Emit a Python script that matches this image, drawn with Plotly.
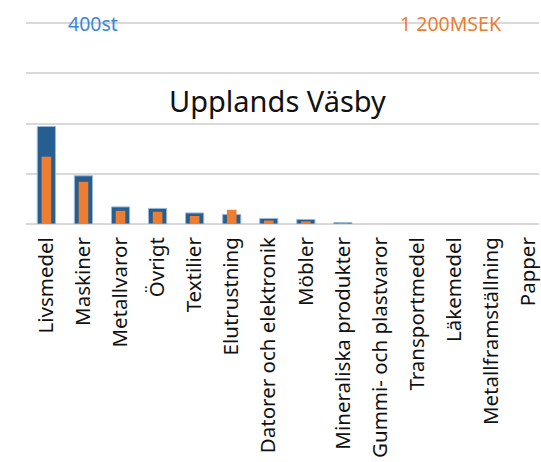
import plotly.graph_objects as go

# Branscher i Upplands Väsby: antal företag (st) och omsättning (MSEK)
categories = ["Livsmedel", "Maskiner", "Metallvaror", "Övrigt", "Textilier",
              "Elutrustning", "Datorer och elektronik", "Möbler",
              "Mineraliska produkter", "Gummi- och plastvaror", "Transportmedel",
              "Läkemedel", "Metallframställning", "Papper"]
antal_st = [194, 96, 34, 31, 22, 19, 11, 9, 3, 0, 0, 0, 0, 0]
oms_msek = [402, 252, 79, 73, 48, 85, 21, 16, 6, 0, 0, 0, 0, 0]

st_max = 400
msek_max = 1200

BLUE = "#255E91"
ORANGE = "#ED7D31"
FONT = "Noto Sans"

W, H = 541, 462
M_L, M_R, M_B = 26, 0, 238
PX_PER_ST = 0.5025          # vertical scale of the count axis
RANGE_TOP = 410              # a little headroom so the 400 gridline is drawn
M_T = round(H - M_B - RANGE_TOP * PX_PER_ST)
plot_w = W - M_L - M_R
plot_h = H - M_T - M_B

fig = go.Figure()
fig.add_trace(go.Bar(
    x=categories, y=antal_st, yaxis="y", width=0.49,
    marker=dict(color=BLUE,
                line=dict(color="#9DB8D9",
                          width=[1 if v > 0 else 0 for v in antal_st])),
    name="st",
))
fig.add_trace(go.Bar(
    x=categories, y=oms_msek, yaxis="y2", width=0.26,
    marker=dict(color=ORANGE, line=dict(width=0)),
    name="MSEK",
))

fig.update_layout(
    width=W, height=H,
    margin=dict(l=M_L, r=M_R, t=M_T, b=M_B),
    paper_bgcolor="white", plot_bgcolor="white",
    showlegend=False,
    barmode="overlay",
    font=dict(family=FONT, color="#222222"),
    xaxis=dict(
        range=[-0.55, 13.29], tickangle=-90, showgrid=False,
        tickfont=dict(size=20.5, color="#111111", family=FONT),
        ticks="", showline=False, zeroline=False, ticklabelstandoff=8,
    ),
    yaxis=dict(
        range=[0, RANGE_TOP], dtick=100, showticklabels=False,
        showgrid=True, gridcolor="#D9D9D9", gridwidth=1.5,
        zeroline=True, zerolinecolor="#D9D9D9", zerolinewidth=1.5,
        ticks="",
    ),
    yaxis2=dict(
        range=[0, RANGE_TOP * msek_max / st_max], overlaying="y", side="right",
        showticklabels=False, showgrid=False, zeroline=False, ticks="",
    ),
)

fig.add_annotation(
    text="Upplands Väsby", xref="paper", yref="paper",
    x=(278 - M_L) / plot_w, y=(H - M_B - 100) / plot_h,
    showarrow=False, xanchor="center", yanchor="middle",
    font=dict(size=29, color="#111111", family=FONT),
)
fig.add_annotation(
    text=f"{st_max}st", xref="paper", yref="y", x=(93 - M_L) / plot_w, y=st_max,
    showarrow=False, xanchor="center", yanchor="middle",
    font=dict(size=19.5, color="#3A87D9", family=FONT),
)
fig.add_annotation(
    text="1 200MSEK", xref="paper", yref="y", x=(453 - M_L) / plot_w, y=st_max,
    showarrow=False, xanchor="center", yanchor="middle",
    font=dict(size=19.5, color=ORANGE, family=FONT),
)

fig.write_html("out.html")
